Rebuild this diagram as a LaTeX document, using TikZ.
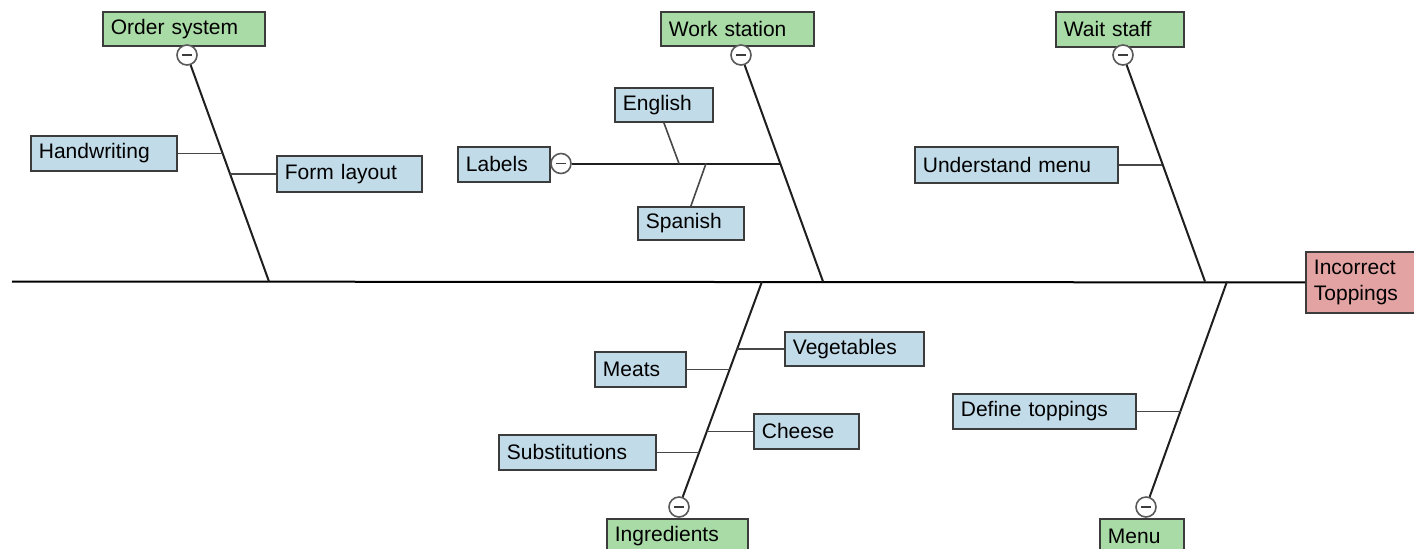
\documentclass[tikz,border=0pt]{standalone}
\usepackage{fontspec}
\setmainfont{Liberation Sans}
\definecolor{gfill}{HTML}{A9DBA6}
\definecolor{bfill}{HTML}{C1DBE8}
\definecolor{rfill}{HTML}{E3A3A3}
\definecolor{bord}{HTML}{3C3C3C}
\tikzset{
  box/.style={draw=bord, line width=0.9pt, anchor=north west, inner xsep=4pt, inner ysep=0pt, align=left,
    font=\fontsize{10.5pt}{13pt}\selectfont, text=black},
  cause/.style={box, fill=gfill},
  sub/.style={box, fill=bfill},
  effect/.style={box, fill=rfill},
  tog/.style={circle, draw=bord!85, fill=white, line width=0.8pt, minimum size=10pt, inner sep=0pt,
    path picture={\draw[line width=0.9pt, bord] ([xshift=-2.4pt]path picture bounding box.center) -- ([xshift=2.4pt]path picture bounding box.center);}},
  rib/.style={line width=1pt, draw=black!88},
  twig/.style={line width=0.8pt, draw=black!72},
  spine/.style={line width=1pt, draw=black}
}
\begin{document}
\begin{tikzpicture}[x=0.5pt,y=-0.5pt]
\useasboundingbox (0,0) rectangle (1414,548);
% effect
\node[effect, text width=49.5pt, minimum height=30.5pt] (eff) at (1305,251) {Incorrect\\Toppings};
\coordinate (tail) at (12,281.5);
\draw[spine] (tail) -- (eff.west);
% spine points
\coordinate (s1) at (269,281.5);
\coordinate (s2) at (823,281.5);
\coordinate (s3) at (1205,281.5);
\coordinate (s4) at (762,281.5);
\coordinate (s5) at (1227,281.5);
% Order system
\node[cause, text width=73pt, minimum height=17pt] (os) at (102,11) {Order system};
\node[tog] (osc) at (187,55) {};
\draw[rib] (osc) -- (s1);
\node[sub, text width=65pt, minimum height=17.5pt] (hw) at (30,135) {Handwriting};
\node[sub, text width=64.5pt, minimum height=18pt] (fl) at (276,155) {Form layout};
\coordinate (jhw) at (222.8,152.5);
\coordinate (jfl) at (230,173);
\draw[twig] (hw.east) -- (hw.east -| jhw);
\draw[twig] (fl.west -| jfl) -- (fl.west);
% Work station
\node[cause, text width=68.5pt, minimum height=17pt] (ws) at (660,11) {Work station};
\node[tog] (wsc) at (741,55) {};
\draw[rib] (wsc) -- (s2);
\node[sub, text width=38pt, minimum height=17.5pt] (lab) at (457,146) {Labels};
\node[tog] (labc) at (561,163.5) {};
\coordinate (jlab) at (780.5,163.5);
\draw[rib] (labc) -- (jlab);
\node[sub, text width=41pt, minimum height=17pt] (en) at (614,87) {English};
\node[sub, text width=45pt, minimum height=16.5pt] (sp) at (637,206) {Spanish};
\coordinate (jen) at (679,163.5);
\coordinate (jsp) at (706,163.5);
\draw[twig] (en.south) -- (jen);
\draw[twig] (jsp) -- (sp.north);
% Wait staff
\node[cause, text width=56pt, minimum height=17.5pt] (wst) at (1055,11) {Wait staff};
\node[tog] (wstc) at (1123,55) {};
\draw[rib] (wstc) -- (s3);
\node[sub, text width=93.5pt, minimum height=18pt] (um) at (914,146) {Understand menu};
\coordinate (jum) at (1162,164);
\draw[twig] (um.east) -- (um.east -| jum);
% Ingredients
\node[cause, text width=62.5pt, minimum height=17pt] (ing) at (606,518) {Ingredients};
\node[tog] (ingc) at (679,507) {};
\draw[rib] (ingc) -- (s4);
\node[sub, text width=61.5pt, minimum height=17pt] (veg) at (784,331) {Vegetables};
\node[sub, text width=37.5pt, minimum height=17.5pt] (mea) at (594,351) {Meats};
\node[sub, text width=44.5pt, minimum height=17.5pt] (che) at (753,413) {Cheese};
\node[sub, text width=70.5pt, minimum height=17.5pt] (sub) at (498,434) {Substitutions};
\coordinate (jveg) at (737.4,348);
\coordinate (jmea) at (729.9,368.5);
\coordinate (jche) at (707.1,430.5);
\coordinate (jsub) at (699.4,451.5);
\draw[twig] (veg.west -| jveg) -- (veg.west);
\draw[twig] (mea.east) -- (mea.east -| jmea);
\draw[twig] (che.west -| jche) -- (che.west);
\draw[twig] (sub.east) -- (sub.east -| jsub);
% Menu
\node[cause, text width=34pt, minimum height=17pt] (men) at (1099,518) {Menu};
\node[tog] (menc) at (1146,507) {};
\draw[rib] (menc) -- (s5);
\node[sub, text width=83.5pt, minimum height=17.5pt] (def) at (952,393) {Define toppings};
\coordinate (jdef) at (1180.6,410.5);
\draw[twig] (def.east) -- (def.east -| jdef);
\end{tikzpicture}
\end{document}
